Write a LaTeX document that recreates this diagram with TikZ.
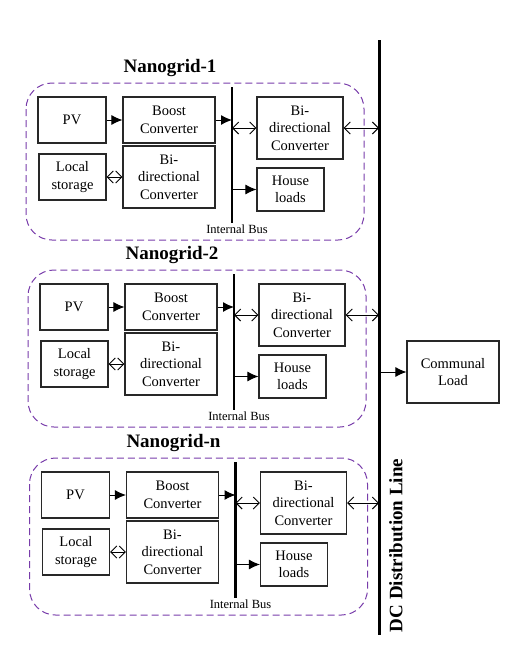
\documentclass[tikz,border=0pt]{standalone}
\usepackage{fontspec}
\setmainfont{Liberation Serif}
\usetikzlibrary{arrows.meta}
\definecolor{ngpurple}{RGB}{120,60,170}
\definecolor{boxline}{RGB}{40,40,40}
\tikzset{
  blk/.style={draw=boxline, line width=1.1pt, fill=white, inner sep=0pt, align=center,
    font=\fontsize{14.5}{17.5}\selectfont},
  conn/.style={line width=1pt},
  fa/.style={conn, -{Latex[length=11pt,width=10pt]}},
  ba/.style={conn, {Straight Barb[length=6pt,width=12pt]}-{Straight Barb[length=6pt,width=12pt]}},
  ngbox/.style={draw=ngpurple, line width=1pt, dash pattern=on 7pt off 4pt, rounded corners=26pt},
  ngtitle/.style={font=\fontsize{19}{22}\selectfont\bfseries},
  buslbl/.style={font=\fontsize{12.5}{14}\selectfont, inner sep=0pt},
  bus/.style={line width=2.2pt},
}
\newcommand\nanogrid[4]{%
\begin{scope}[shift={(#1,#2)}]
  \draw[ngbox] (26,83) rectangle (364,240);
  \node[ngtitle] (title#3) at (170,68) {#4};
  \node[blk, minimum width=68pt, minimum height=46pt] (pv#3) at (72,120) {PV};
  \node[blk, minimum width=92pt, minimum height=46pt] (boost#3) at (169,120) {Boost\\Converter};
  \node[blk, minimum width=67pt, minimum height=46pt] (ls#3) at (72.5,177) {Local\\storage};
  \node[blk, minimum width=92pt, minimum height=62pt] (bil#3) at (169,177) {Bi-\\directional\\Converter};
  \node[blk, minimum width=86pt, minimum height=62pt] (bir#3) at (300,128) {Bi-\\directional\\Converter};
  \node[blk, minimum width=67pt, minimum height=43pt] (hl#3) at (290.5,189.5) {House\\loads};
  \coordinate (bt#3) at (232,87);
  \coordinate (bb#3) at (232,223);
  \draw[bus] (bt#3) -- (bb#3);
  \node[buslbl] (ib#3) at (237,229) {Internal Bus};
  \draw[fa] (pv#3.east) -- (boost#3.west);
  \draw[fa] (boost#3.east) -- (boost#3.east -| bt#3);
  \draw[ba] (bir#3.west -| bt#3) -- (bir#3.west);
  \draw[ba] (ls#3.east) -- (ls#3.east -| bil#3.west);
  \draw[fa] (hl#3.west -| bt#3) -- (hl#3.west);
\end{scope}
\draw[ba] (bir#3.east) -- (bir#3.east -| dctop);
}
\begin{document}
\begin{tikzpicture}[x=1pt,y=-1pt]
\useasboundingbox (0,0) rectangle (518,651);
\coordinate (dctop) at (379,40);
\coordinate (dcbot) at (379,635);
\draw[line width=3pt] (dctop) -- (dcbot);
\node[rotate=90, font=\fontsize{19}{22}\selectfont\bfseries, inner sep=0pt] (dclbl) at (396,545.5) {DC Distribution Line};
\nanogrid{0}{0}{a}{Nanogrid-1}
\nanogrid{2}{187}{b}{Nanogrid-2}
\nanogrid{3.5}{375}{n}{Nanogrid-n}
\node[blk, minimum width=92pt, minimum height=62pt] (cl) at (453,372) {Communal\\Load};
\draw[fa] (cl.west -| dctop) -- (cl.west);
\end{tikzpicture}
\end{document}
